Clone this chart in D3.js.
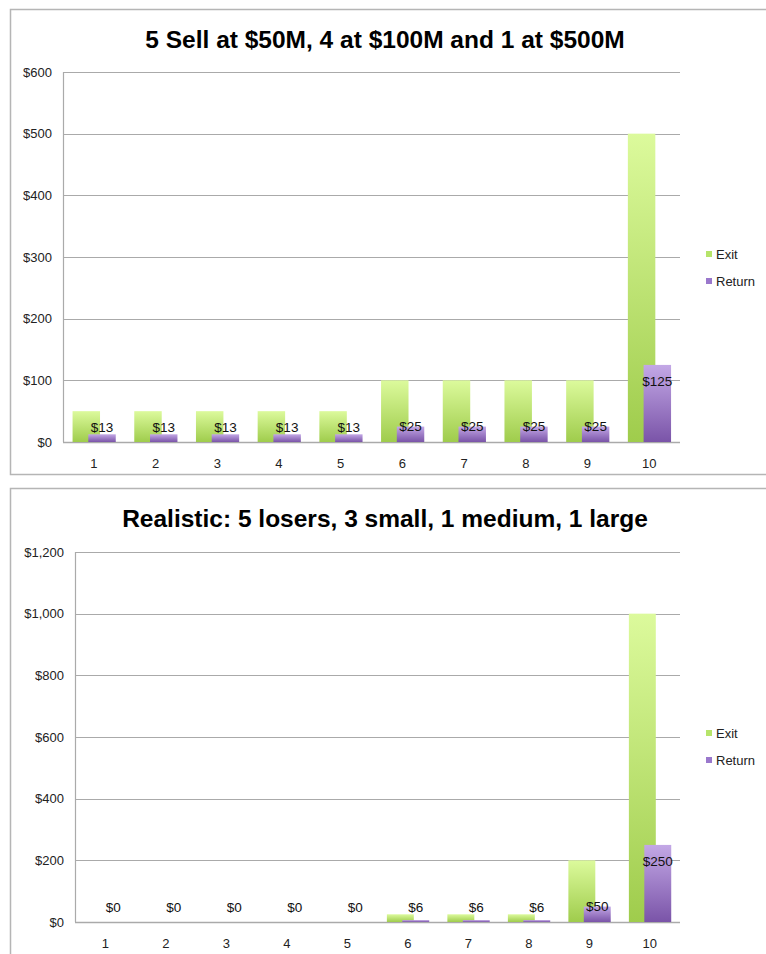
<!DOCTYPE html>
<html>
<head>
<meta charset="utf-8">
<script src="https://cdn.jsdelivr.net/npm/d3@7"></script>
<style>
  body { margin: 0; background: #fff; }
  svg text { font-family: "Liberation Sans", Arial, sans-serif; }
</style>
</head>
<body>
<div id="chart"></div>
<script>
// Data
var categories = ["1", "2", "3", "4", "5", "6", "7", "8", "9", "10"];
var seriesNames = ["Exit", "Return"];

var title1 = "5 Sell at $50M, 4 at $100M and 1 at $500M";
var exit1 = [50, 50, 50, 50, 50, 100, 100, 100, 100, 500];
var return1 = [12.5, 12.5, 12.5, 12.5, 12.5, 25, 25, 25, 25, 125];
var ticks1 = [0, 100, 200, 300, 400, 500, 600];

var title2 = "Realistic: 5 losers, 3 small, 1 medium, 1 large";
var exit2 = [0, 0, 0, 0, 0, 25, 25, 25, 200, 1000];
var return2 = [0, 0, 0, 0, 0, 6.25, 6.25, 6.25, 50, 250];
var ticks2 = [0, 200, 400, 600, 800, 1000, 1200];

// Create the graph area
var width = 766,
    height = 954;

var svg = d3.select("#chart")
    .append("svg")
        .attr("width", width)
        .attr("height", height);

// Gradients for the bars
var defs = svg.append("defs");
function addGradient(id, top, bottom) {
    var g = defs.append("linearGradient")
        .attr("id", id)
        .attr("x1", 0).attr("y1", 0)
        .attr("x2", 0).attr("y2", 1);
    g.append("stop").attr("offset", "0%").attr("stop-color", top);
    g.append("stop").attr("offset", "100%").attr("stop-color", bottom);
}
addGradient("gradExit", "#dcfa9c", "#9fcc4c");
addGradient("gradReturn", "#c3a8e6", "#7a54a8");

var fmt = d3.format("$,");

function drawPanel(top, frameHeight, title, exitVals, returnVals, ticks, plot) {
    var panel = svg.append("g")
        .attr("transform", "translate(0," + top + ")");

    // panel frame
    panel.append("rect")
        .attr("x", 10.5).attr("y", 9.5)
        .attr("width", 800).attr("height", frameHeight)
        .attr("fill", "none")
        .attr("stroke", "#b5b5b5")
        .attr("stroke-width", 1.5);

    panel.append("text")
        .attr("x", 385).attr("y", 48)
        .attr("text-anchor", "middle")
        .style("font-size", "24.5px")
        .style("font-weight", "bold")
        .text(title);

    var x = d3.scaleBand()
        .domain(categories)
        .range([plot.left, plot.right]);

    var y = d3.scaleLinear()
        .domain([0, d3.max(ticks)])
        .range([plot.bottom, plot.top]);

    // gridlines
    panel.append("g")
        .selectAll("line")
        .data(ticks)
        .enter()
        .append("line")
        .attr("x1", plot.left).attr("x2", plot.right)
        .attr("y1", function(d) { return Math.round(y(d)) + 0.5; })
        .attr("y2", function(d) { return Math.round(y(d)) + 0.5; })
        .attr("stroke", "#aaaaaa")
        .attr("stroke-width", function(d) { return d === 0 ? 1.6 : 1.2; });

    // y axis line
    panel.append("line")
        .attr("x1", plot.left + 0.5).attr("x2", plot.left + 0.5)
        .attr("y1", plot.top).attr("y2", plot.bottom)
        .attr("stroke", "#aaaaaa")
        .attr("stroke-width", 1.2);

    // y tick labels
    panel.append("g")
        .selectAll("text")
        .data(ticks)
        .enter()
        .append("text")
        .attr("x", plot.left - 11)
        .attr("y", function(d) { return y(d); })
        .attr("text-anchor", "end")
        .attr("dominant-baseline", "central")
        .style("font-size", "13px")
        .style("fill", "#222")
        .text(function(d) { return fmt(d); });

    // x labels
    panel.append("g")
        .selectAll("text")
        .data(categories)
        .enter()
        .append("text")
        .attr("x", function(d) { return x(d) + x.bandwidth() / 2; })
        .attr("y", plot.bottom + 21)
        .attr("text-anchor", "middle")
        .attr("dominant-baseline", "central")
        .style("font-size", "13px")
        .style("fill", "#222")
        .text(function(d) { return d; });

    var bw = x.bandwidth() * 0.445;
    var exitOff = x.bandwidth() * 0.155;
    var retOff = x.bandwidth() * 0.41;

    var rows = categories.map(function(c, i) {
        return {cat: c, exit: exitVals[i], ret: returnVals[i]};
    });

    // Exit bars
    panel.append("g")
        .selectAll("rect")
        .data(rows)
        .enter()
        .append("rect")
        .attr("x", function(d) { return x(d.cat) + exitOff; })
        .attr("y", function(d) { return y(d.exit); })
        .attr("width", bw)
        .attr("height", function(d) { return y(0) - y(d.exit); })
        .attr("fill", "url(#gradExit)");

    // Return bars
    panel.append("g")
        .selectAll("rect")
        .data(rows)
        .enter()
        .append("rect")
        .attr("x", function(d) { return x(d.cat) + retOff; })
        .attr("y", function(d) { return y(d.ret); })
        .attr("width", bw)
        .attr("height", function(d) { return y(0) - y(d.ret); })
        .attr("fill", "url(#gradReturn)");

    // Return labels
    panel.append("g")
        .selectAll("text")
        .data(rows)
        .enter()
        .append("text")
        .attr("x", function(d) { return x(d.cat) + retOff + bw / 2; })
        .attr("y", function(d) {
            var h = y(0) - y(d.ret);
            if (h > 40) {
                return y(d.ret) + 17;
            } else {
                return Math.min(y(d.ret), y(0) - 15);
            }
        })
        .attr("text-anchor", "middle")
        .attr("dominant-baseline", "central")
        .style("font-size", "13.5px")
        .style("fill", "#111")
        .text(function(d) { return "$" + Math.round(d.ret); });

    // Legend
    var legend = panel.append("g")
        .selectAll("g")
        .data(seriesNames)
        .enter()
        .append("g")
        .attr("transform", function(d, i) {
            return "translate(706," + (254 + i * 27) + ")";
        });

    legend.append("rect")
        .attr("x", 0).attr("y", -3)
        .attr("width", 6).attr("height", 6)
        .attr("fill", function(d, i) { return i === 0 ? "#b6e46a" : "#9a78cc"; });

    legend.append("text")
        .attr("x", 10)
        .attr("y", 0)
        .attr("dominant-baseline", "central")
        .style("font-size", "13px")
        .style("fill", "#222")
        .text(function(d) { return d; });
}

drawPanel(0, 465, title1, exit1, return1, ticks1,
    {left: 63, right: 680, top: 72, bottom: 442});
drawPanel(479, 500, title2, exit2, return2, ticks2,
    {left: 75, right: 680, top: 73, bottom: 443});
</script>
</body>
</html>
